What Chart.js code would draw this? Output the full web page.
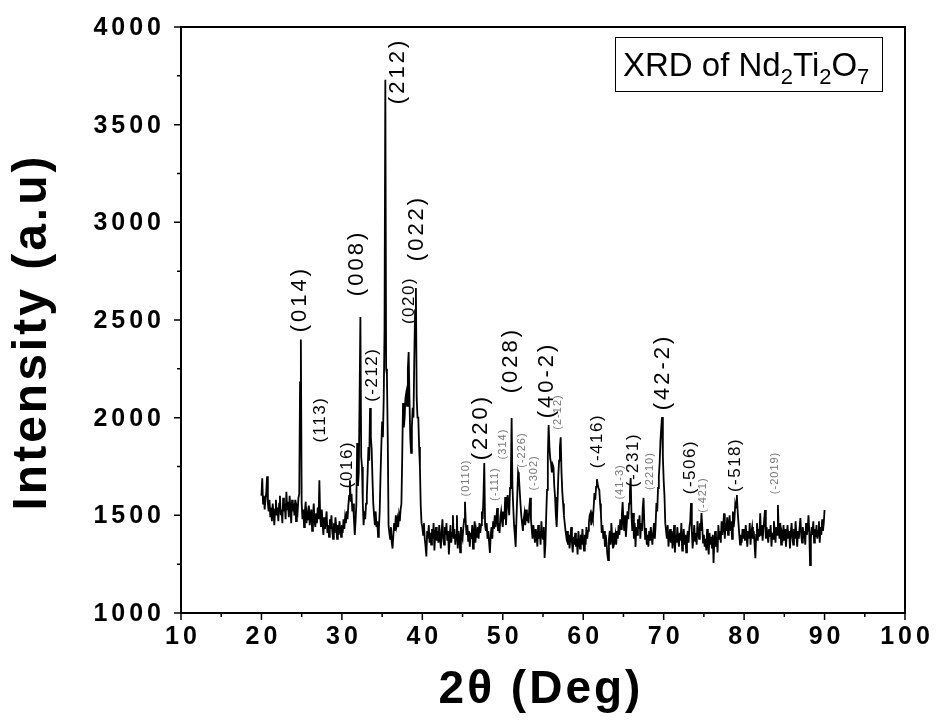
<!DOCTYPE html>
<html>
<head>
  <title>XRD of Nd2Ti2O7</title>
  <style>
    body {
      margin: 0;
      background-color: #fff;
    }
    canvas {
      display: block;
    }
  </style>
</head>
<body>

<canvas id="xrdChart" width="936" height="728"></canvas>

<script src="https://cdn.jsdelivr.net/npm/chart.js@4"></script>
<script>
  // Scan settings (2theta, degrees)
  const scanStart = 20;
  const scanStep = 0.1;

  // Measured intensity, one row per degree (20.0 ... 90.0)
  const intensity = [
    1600, 1690, 1560, 1600, 1530, 1580, 1620, 1700, 1560, 1520,
    1580, 1490, 1540, 1470, 1560, 1510, 1450, 1530, 1580, 1500,
    1540, 1470, 1560, 1600, 1500, 1530, 1460, 1590, 1520, 1560,
    1480, 1620, 1530, 1570, 1490, 1600, 1540, 1460, 1580, 1520,
    1560, 1500, 1580, 1470, 1540, 1520, 1590, 1610, 2180, 2400,
    1560, 1480, 1530, 1440, 1520, 1570, 1460, 1510, 1480, 1550,
    1450, 1500, 1530, 1420, 1490, 1560, 1470, 1440, 1510, 1460,
    1540, 1480, 1680, 1500, 1440, 1530, 1460, 1400, 1490, 1430,
    1470, 1520, 1410, 1450, 1390, 1480, 1430, 1500, 1420, 1380,
    1460, 1410, 1490, 1440, 1380, 1450, 1400, 1470, 1430, 1390,
    1450, 1410, 1480, 1430, 1490, 1460, 1520, 1480, 1550, 1600,
    1680, 1570, 1610, 1520, 1560, 1480, 1400, 1470, 1560, 1870,
    1650, 1720, 2100, 2515, 1800, 1748, 1560, 1450, 1520, 1480,
    1560, 1600, 1720, 1850, 1780, 2050, 1900, 1840, 1690, 1560,
    1500, 1450, 1520, 1440, 1470, 1390, 1430, 1520, 1700, 1850,
    1980, 1900, 2100, 2450, 3730, 2250, 2220, 1900, 1450, 1410,
    1380, 1440, 1360, 1330, 1400, 1460, 1420, 1500, 1450, 1480,
    1440, 1500, 1470, 1530, 1560, 1800, 2075, 1950, 2000, 2100,
    2126, 2060, 2250, 2336, 2100, 1900, 1820, 1950, 2050, 2000,
    2300, 2550, 2664, 2100, 2000, 2000, 1850, 1748, 1550, 1460,
    1440, 1400, 1460, 1380, 1340, 1290, 1420, 1380, 1450, 1360,
    1410, 1350, 1430, 1380, 1460, 1320, 1400, 1440, 1370, 1420,
    1360, 1450, 1390, 1330, 1420, 1480, 1380, 1350, 1440, 1400,
    1460, 1370, 1420, 1300, 1390, 1450, 1360, 1410, 1500, 1380,
    1430, 1350, 1400, 1500, 1330, 1420, 1390, 1310, 1440, 1400,
    1380, 1440, 1480, 1570, 1460, 1400, 1450, 1370, 1420, 1340,
    1410, 1380, 1450, 1330, 1400, 1470, 1360, 1420, 1390, 1440,
    1380, 1460, 1410, 1450, 1520, 1480, 1600, 1768, 1450, 1420,
    1460, 1380, 1420, 1360, 1307, 1400, 1440, 1380, 1470, 1430,
    1500, 1440, 1480, 1537, 1420, 1460, 1410, 1490, 1520, 1470,
    1440, 1520, 1480, 1594, 1450, 1540, 1604, 1560, 1500, 1640,
    1700, 1998, 1650, 1543, 1450, 1400, 1338, 1480, 1600, 1720,
    1700, 1630, 1560, 1500, 1460, 1420, 1480, 1510, 1450, 1530,
    1470, 1510, 1460, 1540, 1590, 1480, 1430, 1380, 1450, 1410,
    1360, 1430, 1400, 1340, 1450, 1380, 1420, 1350, 1470, 1400,
    1380, 1440, 1282, 1350, 1500, 1630, 1800, 1962, 1850, 1790,
    1768, 1720, 1760, 1748, 1650, 1594, 1500, 1440, 1560, 1697,
    1780, 1850, 1900, 1720, 1620, 1560, 1500, 1460, 1420, 1390,
    1420, 1350, 1400, 1330, 1380, 1440, 1360, 1310, 1390, 1350,
    1410, 1340, 1380, 1300, 1420, 1360, 1330, 1400, 1350, 1430,
    1370, 1320, 1400, 1350, 1440, 1380, 1420, 1460, 1500, 1512,
    1450, 1500, 1480, 1543, 1614, 1580, 1646, 1685, 1660, 1640,
    1630, 1560, 1510, 1410, 1450, 1380, 1420, 1340, 1400, 1360,
    1300, 1271, 1380, 1420, 1350, 1460, 1390, 1330, 1410, 1370,
    1400, 1350, 1420, 1380, 1450, 1400, 1480, 1430, 1500, 1568,
    1470, 1420, 1500, 1390, 1450, 1520, 1480, 1560, 1620, 1691,
    1500, 1420, 1512, 1380, 1460, 1338, 1440, 1400, 1480, 1430,
    1500, 1380, 1460, 1420, 1540, 1589, 1450, 1380, 1435, 1350,
    1400, 1340, 1420, 1370, 1440, 1390, 1350, 1410, 1460, 1380,
    1450, 1563, 1520, 1640, 1700, 1768, 1880, 1950, 2003, 1800,
    1680, 1600, 1460, 1420, 1380, 1450, 1340, 1400, 1430, 1360,
    1420, 1330, 1380, 1450, 1310, 1400, 1360, 1440, 1380, 1340,
    1410, 1370, 1460, 1320, 1390, 1430, 1350, 1400, 1310, 1380,
    1420, 1360, 1440, 1470, 1563, 1420, 1330, 1390, 1450, 1370,
    1410, 1350, 1470, 1420, 1380, 1460, 1420, 1512, 1440, 1360,
    1400, 1340, 1380, 1320, 1430, 1360, 1300, 1410, 1350, 1390,
    1330, 1400, 1256, 1370, 1420, 1340, 1390, 1310, 1450, 1380,
    1420, 1360, 1470, 1400, 1440, 1510, 1380, 1460, 1420, 1490,
    1400, 1450, 1500, 1420, 1470, 1380, 1520, 1440, 1480, 1560,
    1540, 1604, 1520, 1460, 1400, 1350, 1400, 1360, 1430, 1380,
    1430, 1370, 1450, 1400, 1340, 1420, 1380, 1460, 1350, 1410,
    1440, 1380, 1420, 1350, 1280, 1400, 1460, 1370, 1430, 1390,
    1510, 1400, 1450, 1370, 1430, 1480, 1527, 1380, 1440, 1400,
    1360, 1430, 1390, 1450, 1340, 1410, 1380, 1470, 1420, 1360,
    1440, 1400, 1553, 1430, 1380, 1460, 1350, 1410, 1390, 1450,
    1370, 1430, 1340, 1400, 1450, 1380, 1420, 1330, 1410, 1460,
    1390, 1350, 1430, 1380, 1470, 1400, 1340, 1420, 1380, 1440,
    1486, 1400, 1360, 1440, 1380, 1420, 1350, 1460, 1400, 1430,
    1500, 1420, 1245, 1380, 1440, 1400, 1470, 1360, 1430, 1390,
    1450, 1380, 1420, 1470, 1360, 1440, 1400, 1480, 1420, 1460,
    1527
  ];

  // Axis ticks
  const xMajorTicks = [10, 20, 30, 40, 50, 60, 70, 80, 90, 100];
  const xMinorTicks = [15, 25, 35, 45, 55, 65, 75, 85, 95];
  const yMajorTicks = [1000, 1500, 2000, 2500, 3000, 3500, 4000];
  const yMinorTicks = [1250, 1750, 2250, 2750, 3250, 3750];

  // Miller indices written over the reflections: [label, 2theta, intensity, style]
  const peakLabels = [
    ['(014)', 24.79, 2607, 'big'],
    ['(113)', 27.28, 1990, 'mid'],
    ['(016)', 30.64, 1760, 'mid'],
    ['(008)', 31.88, 2792, 'big'],
    ['(-212)', 33.74, 2220, 'mid'],
    ['(212)', 36.95, 3775, 'big'],
    ['(020)', 38.34, 2600, 'mid'],
    ['(022)', 39.34, 2971, 'big'],
    ['(0110)', 45.43, 1691, 'small'],
    ['(220)', 47.29, 1952, 'big'],
    ['(-111)', 49.04, 1660, 'small'],
    ['(314)', 50.03, 1865, 'small'],
    ['(028)', 51.02, 2295, 'big'],
    ['(-226)', 52.39, 1834, 'small'],
    ['(-302)', 53.88, 1717, 'small'],
    ['(40-2)', 55.50, 2193, 'big'],
    ['(2-12)', 56.87, 2029, 'small'],
    ['(-416)', 61.72, 1880, 'mid'],
    ['(41-3)', 64.57, 1671, 'small'],
    ['(-231)', 66.19, 1783, 'mid'],
    ['(2210)', 68.30, 1727, 'small'],
    ['(42-2)', 69.92, 2234, 'big'],
    ['(-506)', 73.28, 1747, 'mid'],
    ['(-421)', 74.89, 1604, 'small'],
    ['(-518)', 78.87, 1758, 'mid'],
    ['(-2019)', 83.84, 1717, 'small']
  ];

  const FONT = '"Liberation Sans", Arial, sans-serif';

  const labelStyles = {
    big:   { font: '22px ' + FONT, spacing: '3px', color: '#000' },
    mid:   { font: '17px ' + FONT, spacing: '1.5px', color: '#000' },
    small: { font: '11px ' + FONT, spacing: '1px', color: '#777' }
  };

  const points = intensity.map((v, i) => ({
    x: Math.round((scanStart + i * scanStep) * 10) / 10,
    y: v
  }));

  // Frame, ticks, tick labels and axis titles
  const axesPlugin = {
    id: 'axesPlugin',
    afterDraw(chart) {
      const ctx = chart.ctx;
      const area = chart.chartArea;
      const xs = chart.scales.x;
      const ys = chart.scales.y;

      ctx.save();
      ctx.strokeStyle = '#000';
      ctx.lineWidth = 2;
      ctx.strokeRect(area.left, area.top, area.right - area.left, area.bottom - area.top);

      ctx.lineWidth = 1.5;
      ctx.beginPath();
      xMajorTicks.forEach(v => {
        const p = xs.getPixelForValue(v);
        ctx.moveTo(p, area.bottom);
        ctx.lineTo(p, area.bottom + 7);
      });
      xMinorTicks.forEach(v => {
        const p = xs.getPixelForValue(v);
        ctx.moveTo(p, area.bottom);
        ctx.lineTo(p, area.bottom + 4);
      });
      yMajorTicks.forEach(v => {
        const p = ys.getPixelForValue(v);
        ctx.moveTo(area.left, p);
        ctx.lineTo(area.left - 7, p);
      });
      yMinorTicks.forEach(v => {
        const p = ys.getPixelForValue(v);
        ctx.moveTo(area.left, p);
        ctx.lineTo(area.left - 4, p);
      });
      ctx.stroke();

      ctx.fillStyle = '#000';
      ctx.font = 'bold 25px ' + FONT;
      ctx.letterSpacing = '4px';
      ctx.textAlign = 'center';
      ctx.textBaseline = 'top';
      xMajorTicks.forEach(v => {
        ctx.fillText(String(v), xs.getPixelForValue(v) + 2, area.bottom + 12);
      });
      ctx.textAlign = 'right';
      ctx.textBaseline = 'middle';
      yMajorTicks.forEach(v => {
        ctx.fillText(String(v), area.left - 16, ys.getPixelForValue(v) + 1);
      });

      // axis titles
      ctx.font = 'bold 46px ' + FONT;
      ctx.letterSpacing = '3px';
      ctx.textAlign = 'center';
      ctx.textBaseline = 'middle';
      ctx.fillText('2\u03B8 (Deg)', 541, 690);

      ctx.translate(33, 332);
      ctx.rotate(-Math.PI / 2);
      ctx.font = 'bold 48px ' + FONT;
      ctx.fillText('Intensity (a.u)', 0, 0);
      ctx.restore();
    }
  };

  // Rotated hkl labels and the boxed sample name
  const labelPlugin = {
    id: 'labelPlugin',
    afterDraw(chart) {
      const ctx = chart.ctx;
      const xs = chart.scales.x;
      const ys = chart.scales.y;

      peakLabels.forEach(([text, angle, value, style]) => {
        const s = labelStyles[style];
        ctx.save();
        ctx.translate(xs.getPixelForValue(angle), ys.getPixelForValue(value));
        ctx.rotate(-Math.PI / 2);
        ctx.font = s.font;
        ctx.letterSpacing = s.spacing;
        ctx.fillStyle = s.color;
        ctx.textAlign = 'center';
        ctx.textBaseline = 'middle';
        ctx.fillText(text, 0, 0);
        ctx.restore();
      });

      // sample name box
      const parts = [['XRD of Nd', false], ['2', true], ['Ti', false], ['2', true], ['O', false], ['7', true]];
      ctx.save();
      ctx.strokeStyle = '#000';
      ctx.lineWidth = 1;
      ctx.strokeRect(615.5, 37.5, 267, 54);
      ctx.fillStyle = '#000';
      ctx.textBaseline = 'alphabetic';
      ctx.textAlign = 'left';
      let x = 623;
      parts.forEach(([t, sub]) => {
        ctx.font = (sub ? '22px ' : '33px ') + FONT;
        ctx.fillText(t, x, sub ? 84 : 76);
        x += ctx.measureText(t).width;
      });
      ctx.restore();
    }
  };

  const ctx = document.getElementById('xrdChart').getContext('2d');
  new Chart(ctx, {
    type: 'line',
    data: {
      datasets: [{
        label: 'Nd2Ti2O7',
        data: points,
        borderColor: '#000',
        borderWidth: 1.8,
        pointRadius: 0,
        tension: 0,
        fill: false
      }]
    },
    options: {
      responsive: false,
      animation: false,
      layout: {
        padding: { left: 181, top: 27, right: 31, bottom: 115 }
      },
      plugins: {
        legend: { display: false },
        tooltip: { enabled: false }
      },
      scales: {
        x: { type: 'linear', min: 10, max: 100, display: false },
        y: { type: 'linear', min: 1000, max: 4000, display: false }
      }
    },
    plugins: [axesPlugin, labelPlugin]
  });
</script>

</body>
</html>
